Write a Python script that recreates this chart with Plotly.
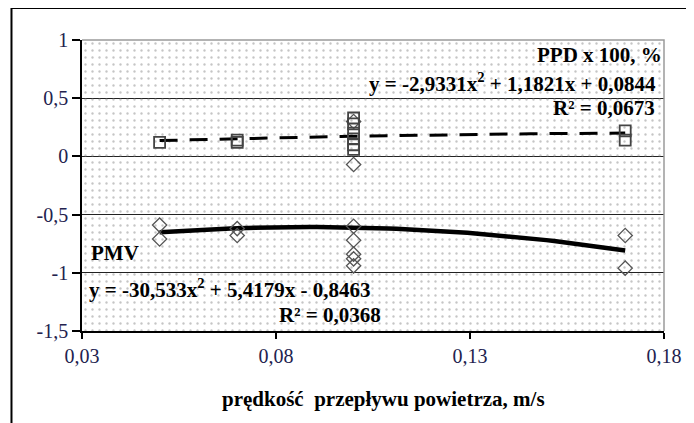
import numpy as np
import plotly.graph_objects as go

# ---- data ----
pmv_x = [0.05, 0.05, 0.07, 0.07, 0.10, 0.10, 0.10, 0.10, 0.10, 0.10, 0.10, 0.17, 0.17]
pmv_y = [-0.59, -0.71, -0.62, -0.68, 0.30, -0.07, -0.60, -0.72, -0.84, -0.88, -0.94, -0.68, -0.96]

ppd_x = [0.05, 0.07, 0.07, 0.10, 0.10, 0.10, 0.10, 0.10, 0.10, 0.17, 0.17]
ppd_y = [0.12, 0.12, 0.14, 0.33, 0.28, 0.20, 0.15, 0.10, 0.06, 0.22, 0.14]

# trend coefficients as shown on the chart (a, b, c)
pmv_coef = [-30.533, 5.4179, -0.8463]
ppd_coef = [-2.9331, 1.1821, 0.0844]

x_ticks = [0.03, 0.08, 0.13, 0.18]
x_ticktext = ["0,03", "0,08", "0,13", "0,18"]
y_ticks = [1, 0.5, 0, -0.5, -1, -1.5]
y_ticktext = ["1", "0,5", "0", "-0,5", "-1", "-1,5"]
x_range = [0.03, 0.18]
y_range = [-1.5, 1]

trend_x = np.linspace(min(pmv_x), max(pmv_x), 60)
pmv_trend = np.polyval(pmv_coef, trend_x)
ppd_trend = np.polyval(ppd_coef, trend_x)

FONT = "Liberation Serif"
OFF = 8  # page body margin
W, H = 694 - OFF, 423 - OFF
L, T = 82 - OFF, 40 - OFF
R = W - (668 - OFF)
B = H - (331 - OFF)
PW, PH = W - L - R, H - T - B

def px(x):
    return (x - OFF - L) / PW

def py(y):
    return (H - B - (y - OFF)) / PH

fig = go.Figure()

# dotted background
fig.add_trace(go.Scatter(
    x=[x_range[0], x_range[1], x_range[1], x_range[0], x_range[0]],
    y=[y_range[0], y_range[0], y_range[1], y_range[1], y_range[0]],
    fill="toself", mode="none", fillcolor="rgba(0,0,0,0)",
    fillpattern=dict(shape=".", size=7, solidity=0.09, fgcolor="#8c8c8c",
                     bgcolor="rgba(0,0,0,0)"),
    hoverinfo="skip", showlegend=False))

fig.add_trace(go.Scatter(x=trend_x, y=ppd_trend, mode="lines",
                         line=dict(color="black", width=3, dash="18px,12px"),
                         showlegend=False))
fig.add_trace(go.Scatter(x=trend_x, y=pmv_trend, mode="lines",
                         line=dict(color="black", width=4.5),
                         showlegend=False))
fig.add_trace(go.Scatter(x=pmv_x, y=pmv_y, mode="markers",
                         marker=dict(symbol="diamond-open", size=11, color="#555555",
                                     line=dict(width=1.3, color="#555555")),
                         showlegend=False))
fig.add_trace(go.Scatter(x=ppd_x, y=ppd_y, mode="markers",
                         marker=dict(symbol="square-open", size=11, color="#444444",
                                     line=dict(width=1.8, color="#444444")),
                         showlegend=False))

tick_font = dict(family=FONT, size=20, color="#22224e")
fig.update_xaxes(range=x_range, tickvals=x_ticks, ticktext=x_ticktext,
                 showgrid=False, zeroline=False, showline=True, linecolor="black",
                 linewidth=1.5, ticks="outside", ticklen=6, tickcolor="black",
                 tickwidth=1.5, tickfont=tick_font)
fig.update_yaxes(range=y_range, tickvals=y_ticks, ticktext=y_ticktext,
                 showgrid=True, gridcolor="#222222", gridwidth=1.2,
                 zeroline=True, zerolinecolor="#222222", zerolinewidth=1.2,
                 showline=True, linecolor="black", linewidth=1.5,
                 ticks="outside", ticklen=8, tickcolor="black", tickwidth=1.5,
                 tickfont=tick_font)

# plot border (top & right, gray)
fig.add_shape(type="path", xref="paper", yref="paper",
              path="M 0 1 L 1 1 L 1 0", line=dict(color="#9a9a9a", width=1.5),
              layer="above")
# outer chart frame (cropped on right and bottom)
fig.add_shape(type="rect", xref="paper", yref="paper",
              x0=px(11), x1=px(720), y0=py(440), y1=py(8),
              line=dict(color="black", width=2), layer="above")

ann_font = dict(family=FONT, size=21, color="black")
anns = [
    ("<b>PPD x 100, %</b>", 668, 55, "right"),
    ("<b>y = -2,9331x<sup>2</sup> + 1,1821x + 0,0844</b>", 662, 82, "right"),
    ("<b>R² = 0,0673</b>", 661, 108, "right"),
    ("<b>PMV</b>", 89, 253, "left"),
    ("<b>y = -30,533x<sup>2</sup> + 5,4179x - 0,8463</b>", 87, 288, "left"),
    ("<b>R² = 0,0368</b>", 385, 315, "right"),
    ("<b>prędkość  przepływu powietrza, m/s</b>", 386, 399, "center"),
]
for text, x, y, anchor in anns:
    fig.add_annotation(text=text, x=px(x), y=py(y), xref="paper", yref="paper",
                       xanchor=anchor, yanchor="middle", showarrow=False,
                       font=ann_font)

fig.update_layout(width=W, height=H, margin=dict(l=L, r=R, t=T, b=B),
                  plot_bgcolor="white", paper_bgcolor="white",
                  separators=", ", showlegend=False, font=dict(family=FONT))

fig.write_html("out.html")
